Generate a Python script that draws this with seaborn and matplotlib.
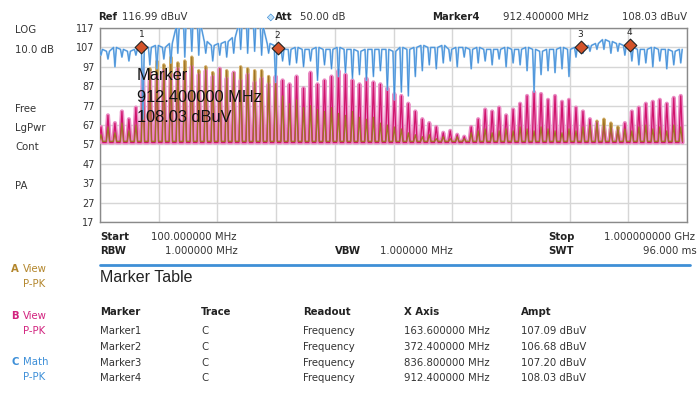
import numpy as np
import pandas as pd
import seaborn as sns
import matplotlib.pyplot as plt

# sweep 100 MHz .. 1 GHz, one comb tooth per channel
chan_mhz = 101.5 + 10.71 * np.arange(84)

# trace B (View, pink) peak level per channel, dBuV
b_peak = [66, 72, 68, 74, 70, 76, 96, 94, 92, 95, 93, 96, 94, 97, 93, 95, 92, 96, 91, 94,
          90, 93, 89, 91, 88, 92, 90, 88, 92, 86, 94, 88, 90, 92, 95, 93, 90, 88, 91, 89,
          88, 86, 83, 82, 78, 74, 70, 68, 66, 63, 64, 62, 61, 66, 70, 75, 74, 76, 72, 75,
          78, 82, 84, 83, 80, 82, 79, 80, 76, 74, 70, 68, 66, 65, 64, 68, 74, 76, 78, 79,
          80, 78, 81, 82]

# trace A (View, gold) peak level per channel
a_peak = [62, 66, 63, 68, 64, 67, 90, 96, 100, 98, 102, 99, 100, 102, 95, 97, 94, 96, 95, 94,
          97, 96, 95, 95, 92, 90, 82, 78, 80, 76, 77, 75, 74, 76, 73, 72, 74, 71, 70, 71,
          68, 67, 66, 65, 63, 62, 61, 62, 60, 61, 60, 61, 60, 63, 64, 65, 63, 64, 65, 64,
          66, 65, 64, 66, 65, 64, 63, 65, 64, 66, 67, 69, 70, 68, 66, 65, 64, 66, 67, 65,
          66, 64, 67, 66]

# trace C (Math, blue) level between channels and level at each channel dip
c_top = [106, 105, 107, 106, 105, 106, 108, 107, 108, 107, 109, 118, 122, 122, 120, 110, 108, 109, 110, 112,
         120, 122, 122, 118, 109, 108, 106, 106, 107, 106, 106, 107, 106, 106, 107, 106, 106, 105, 106, 106,
         106, 106, 105, 107, 106, 107, 108, 107, 107, 108, 106, 107, 107, 106, 107, 106, 106, 106, 107, 106,
         106, 107, 106, 105, 106, 106, 107, 106, 107, 107, 108, 109, 111, 110, 109, 108, 107, 106, 106, 107,
         106, 106, 105, 106]
c_dip = [103, 101, 97, 102, 100, 103, 70, 98, 96, 101, 99, 104, 102, 105, 103, 104, 100, 103, 102, 104,
         106, 104, 105, 103, 104, 89, 100, 98, 99, 97, 100, 90, 98, 96, 92, 94, 91, 93, 90, 92,
         95, 85, 80, 84, 82, 92, 95, 98, 96, 99, 100, 97, 102, 96, 99, 100, 98, 101, 97, 99,
         98, 95, 84, 93, 95, 94, 96, 92, 102, 104, 105, 106, 106, 104, 105, 103, 100, 98, 99, 97,
         100, 96, 98, 99]

b_floor = 58.0
a_floor = 58.6

marker_ids = ["1", "2", "3", "4"]
marker_mhz = [163.6, 372.4, 836.8, 912.4]
marker_db = [107.09, 106.68, 107.20, 108.03]

y_ticks = [117, 107, 97, 87, 77, 67, 57, 47, 37, 27, 17]

W, H = 700, 394


def fx(x):
    return x / W


def fy(y):
    return 1 - y / H


def comb(peaks, floor, half):
    xs, ys = [], []
    for c, p in zip(chan_mhz, peaks):
        xs += [c - half, c, c + half]
        ys += [floor, p, floor]
    return pd.DataFrame({"f": xs, "lvl": ys})


def ripple(top, dip, half):
    xs, ys = [], []
    for c, t, d in zip(chan_mhz, top, dip):
        xs += [c - half, c, c + half]
        ys += [t, d, t]
    return pd.DataFrame({"f": xs, "lvl": ys})


sns.set_style("white")
plt.rcParams["font.family"] = ["DejaVu Sans"]

fig = plt.figure(figsize=(7, 3.94), dpi=100)
ax = fig.add_axes([fx(100), fy(222), (687 - 100) / W, (222 - 28) / H])

df_a = comb(a_peak, a_floor, 2.4)
df_b = comb(b_peak, b_floor, 2.8)
df_c = ripple(c_top, c_dip, 2.2)

sns.lineplot(data=df_a, x="f", y="lvl", sort=False, estimator=None, ax=ax,
             color="#d2ad66", lw=2.4, zorder=3)
sns.lineplot(data=df_b, x="f", y="lvl", sort=False, estimator=None, ax=ax,
             color="#ea8cc4", lw=3.0, zorder=4)
sns.lineplot(data=df_b, x="f", y="lvl", sort=False, estimator=None, ax=ax,
             color="#d0146c", lw=0.9, zorder=4)
sns.lineplot(data=df_a, x="f", y="lvl", sort=False, estimator=None, ax=ax,
             color="#9e7424", lw=0.9, zorder=4)
sns.lineplot(data=df_c, x="f", y="lvl", sort=False, estimator=None, ax=ax,
             color="#86bbea", lw=1.3, zorder=5)
sns.lineplot(data=df_c, x="f", y="lvl", sort=False, estimator=None, ax=ax,
             color="#3e8ad6", lw=0.5, zorder=5)

mk = pd.DataFrame({"f": marker_mhz, "lvl": marker_db})
sns.scatterplot(data=mk, x="f", y="lvl", marker="D", s=42, color="#d4532a",
                edgecolor="#222", linewidth=0.8, ax=ax, zorder=7, clip_on=False)
for i, f, v in zip(marker_ids, marker_mhz, marker_db):
    ax.annotate(i, (f, v), xytext=(0, 6), textcoords="offset points",
                ha="center", va="bottom", fontsize=6.5, color="#222", zorder=8)

ax.set_xlim(100, 1000)
ax.set_ylim(17, 117)
ax.set_xticks(np.linspace(100, 1000, 11))
ax.set_xticklabels([])
ax.set_yticks(y_ticks)
ax.set_yticklabels([str(t) for t in y_ticks], fontsize=7, color="#333")
ax.tick_params(axis="y", length=3, width=0.8, color="#777", pad=1)
ax.tick_params(axis="x", length=0)
ax.grid(True, color="#d6d6d6", lw=1.0)
ax.set_axisbelow(True)
for s in ax.spines.values():
    s.set_color("#8a8a8a")
    s.set_linewidth(1.0)
ax.set_xlabel("")
ax.set_ylabel("")

# big marker readout over the traces
for txt, y in [("Marker", 76), ("912.400000 MHz", 98), ("108.03 dBuV", 118)]:
    fig.text(fx(137), fy(y), txt, fontsize=11.8, family="Liberation Sans",
             color="#111", va="center", ha="left", zorder=10)

fs = 7.3
dark = "#222"
# header
fig.text(fx(98), fy(17), "Ref", fontsize=fs, weight="bold", color=dark, va="center")
fig.text(fx(122), fy(17), "116.99 dBuV", fontsize=fs, color="#333", va="center")
fig.text(fx(267), fy(17), "\u25c6", fontsize=7, color="#bfe0f7", va="center")
fig.text(fx(267), fy(17), "\u25c7", fontsize=7, color="#2b7fd0", va="center")
fig.text(fx(275), fy(17), "Att", fontsize=fs, weight="bold", color=dark, va="center")
fig.text(fx(300), fy(17), "50.00 dB", fontsize=fs, color="#333", va="center")
fig.text(fx(432), fy(17), "Marker4", fontsize=fs, weight="bold", color=dark, va="center")
fig.text(fx(503), fy(17), "912.400000 MHz", fontsize=fs, color="#333", va="center")
fig.text(fx(622), fy(17), "108.03 dBuV", fontsize=fs, color="#333", va="center")

# left status column
for txt, y in [("LOG", 30), ("10.0 dB", 50), ("Free", 109), ("LgPwr", 128),
               ("Cont", 147), ("PA", 186)]:
    fig.text(fx(15), fy(y), txt, fontsize=fs, color="#333", va="center")

# sweep settings
fig.text(fx(100), fy(237), "Start", fontsize=fs, weight="bold", color=dark, va="center")
fig.text(fx(151), fy(237), "100.000000 MHz", fontsize=fs, color="#333", va="center")
fig.text(fx(100), fy(251), "RBW", fontsize=fs, weight="bold", color=dark, va="center")
fig.text(fx(165), fy(251), "1.000000 MHz", fontsize=fs, color="#333", va="center")
fig.text(fx(335), fy(251), "VBW", fontsize=fs, weight="bold", color=dark, va="center")
fig.text(fx(380), fy(251), "1.000000 MHz", fontsize=fs, color="#333", va="center")
fig.text(fx(548), fy(237), "Stop", fontsize=fs, weight="bold", color=dark, va="center")
fig.text(fx(604), fy(237), "1.000000000 GHz", fontsize=fs, color="#333", va="center")
fig.text(fx(548), fy(251), "SWT", fontsize=fs, weight="bold", color=dark, va="center")
fig.text(fx(697), fy(251), "96.000 ms", fontsize=fs, color="#333", va="center", ha="right")

fig.add_artist(plt.Line2D([fx(100), fx(690)], [fy(265), fy(265)], color="#3f8fd6", lw=2))
fig.text(fx(100), fy(277), "Marker Table", fontsize=11.5, family="Liberation Sans",
         color="#222", va="center")

# trace legend
for letter, kind, col, y in [("A", "View", "#b3862c", 269), ("B", "View", "#d2237f", 316),
                             ("C", "Math", "#3d8fd8", 362)]:
    fig.text(fx(11), fy(y), letter, fontsize=fs, weight="bold", color=col, va="center")
    fig.text(fx(23), fy(y), kind, fontsize=fs, color=col, va="center")
    fig.text(fx(23), fy(y + 15), "P-PK", fontsize=fs, color=col, va="center")

# marker table
cols_x = [100, 201, 303, 404, 521]
for txt, x in zip(["Marker", "Trace", "Readout", "X Axis", "Ampt"], cols_x):
    fig.text(fx(x), fy(312), txt, fontsize=fs, weight="bold", color=dark, va="center")
row_y = [331, 347, 363, 378]
for k, y in enumerate(row_y):
    row = ["Marker" + marker_ids[k], "C", "Frequency",
           "%.6f MHz" % marker_mhz[k], "%.2f dBuV" % marker_db[k]]
    for txt, x in zip(row, cols_x):
        fig.text(fx(x), fy(y), txt, fontsize=fs, color="#333", va="center")

fig.savefig("out.png", dpi=100)
